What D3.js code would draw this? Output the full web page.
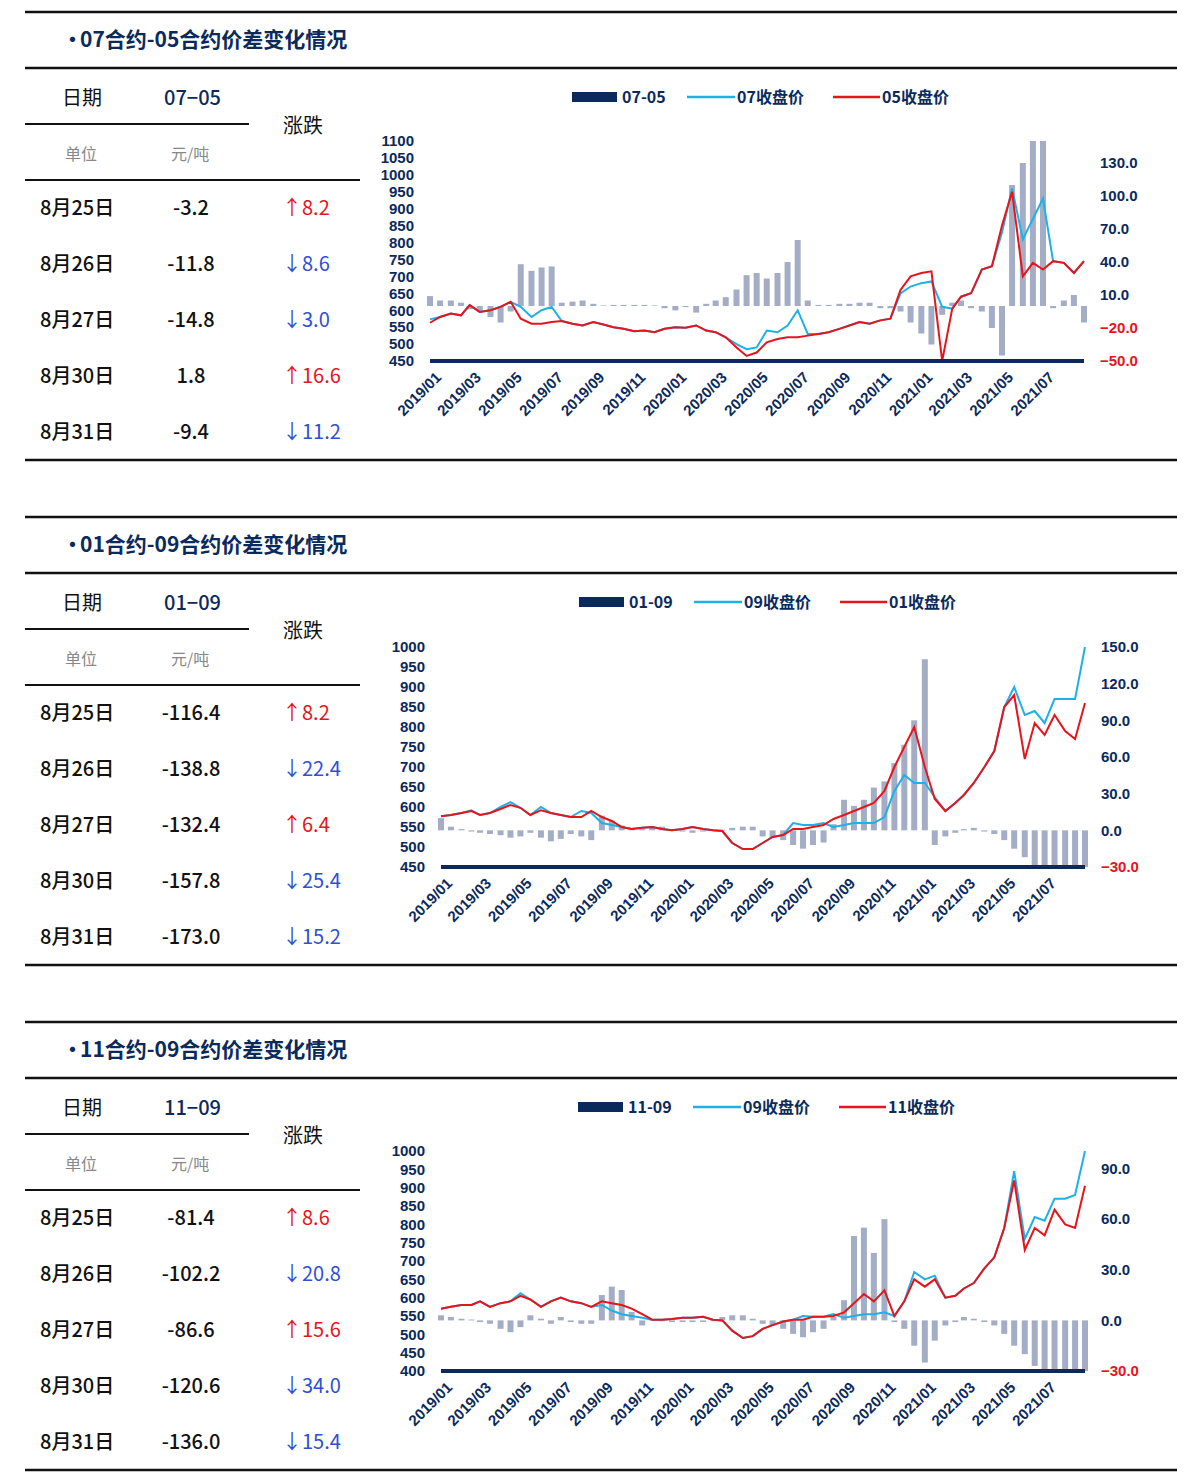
<!DOCTYPE html>
<html><head><meta charset="utf-8">
<script src="https://cdn.jsdelivr.net/npm/d3@7"></script>
<style>body{margin:0;background:#fff}svg{display:block}</style>
</head><body>
<svg id="c" width="1200" height="1483"></svg>
<script>
// ---------- shared categories ----------
const months = [];
for (let y = 2019; y <= 2021; y++) for (let m = 1; m <= 12; m++) { if (y === 2021 && m > 8) break; months.push(y + "-" + String(m).padStart(2, "0")); }
const dates = [];
months.forEach(m => { dates.push(m + "-01"); dates.push(m + "-16"); });
dates.push("2021-08-31");
const xTickLabels = ["2019/01","2019/03","2019/05","2019/07","2019/09","2019/11","2020/01","2020/03","2020/05","2020/07","2020/09","2020/11","2021/01","2021/03","2021/05","2021/07"];

// ---------- panel 1: 07-05 ----------
const p1Title = "07合约-05合约价差变化情况";
const p1Names = ["07-05", "07收盘价", "05收盘价"];
const p1Cyan = [573,580,590,585,615,595,600,610,625,610,580,600,610,568,560,555,565,558,550,545,538,540,535,545,
  550,548,555,540,535,520,500,485,490,540,535,555,600,530,530,535,545,555,565,560,570,575,650,670,
  680,685,610,605,640,650,720,730,830,960,810,870,930,745,740,710,745];
const p1Red = [563,580,590,585,615,595,600,610,625,575,560,560,565,568,560,555,565,558,550,545,538,540,535,545,
  550,548,555,540,535,520,490,465,475,505,515,520,520,525,530,535,545,555,565,560,570,575,660,700,
  710,715,450,605,640,650,720,730,850,950,700,740,720,745,740,710,745];
const p1Bars = [9,5,5,3,-3,-5,-10,-15,-5,38,32,35,36,3,4,5,2,0.5,1,1,1,1,0.5,-2,
  -4,-1,-6,2,5,8,15,28,30,25,30,40,60,5,1,1,2,2,3,3,-2,-2,-5,-15,
  -25,-35,-8,3,5,-2,-5,-20,-45,110,130,150,150,-2,5,10,-15];
const p1Left = d3.range(450, 1101, 50);
const p1Right = [-50, -20, 10, 40, 70, 100, 130];
const p1RowDates = ["8月25日","8月26日","8月27日","8月30日","8月31日"];
const p1RowVals = ["-3.2","-11.8","-14.8","1.8","-9.4"];
const p1RowChg = ["8.2","8.6","3.0","16.6","11.2"];
const p1RowUp = [true,false,false,true,false];

// ---------- panel 2: 01-09 ----------
const p2Title = "01合约-09合约价差变化情况";
const p2Names = ["01-09", "09收盘价", "01收盘价"];
const p2Cyan = [577,580,585,592,580,585,600,612,598,580,600,585,580,575,590,585,560,555,550,545,548,550,545,542,
  545,550,545,542,540,510,495,495,510,525,530,560,555,555,560,550,555,560,560,560,575,640,680,660,
  660,625,590,610,630,660,700,740,850,900,830,840,810,870,870,870,1000];
const p2Red = [577,580,585,590,580,585,595,605,598,580,592,585,580,575,575,590,575,565,550,545,548,550,545,542,
  545,550,545,542,540,510,495,495,510,525,530,545,545,550,555,570,580,590,600,610,640,700,750,800,
  700,620,590,610,630,660,700,740,850,880,720,810,780,830,790,770,860];
const p2Bars = [10,3,1,-1,-2,-3,-4,-6,-5,-2,-6,-9,-7,-3,-5,-8,12,8,4,2,1,2,3,1,
  -1,-2,-1,0.5,0.5,2,3,3,-5,-6,-8,-12,-15,-12,-10,5,25,20,25,35,40,55,70,90,
  140,-12,-5,-2,1,2,-1,-3,-8,-15,-22,-30,-30,-30,-30,-30,-30];
const p2Left = d3.range(450, 1001, 50);
const p2Right = [-30, 0, 30, 60, 90, 120, 150];
const p2RowDates = ["8月25日","8月26日","8月27日","8月30日","8月31日"];
const p2RowVals = ["-116.4","-138.8","-132.4","-157.8","-173.0"];
const p2RowChg = ["8.2","22.4","6.4","25.4","15.2"];
const p2RowUp = [true,false,true,false,false];

// ---------- panel 3: 11-09 ----------
const p3Title = "11合约-09合约价差变化情况";
const p3Names = ["11-09", "09收盘价", "11收盘价"];
const p3Cyan = [570,575,580,580,590,575,585,590,612,595,575,590,600,590,585,575,580,565,555,550,545,540,540,542,
  545,545,548,540,538,510,490,495,515,525,535,540,550,548,548,555,545,550,555,555,560,550,590,670,
  650,660,600,605,625,640,680,710,790,945,760,820,810,870,870,880,1000];
const p3Red = [570,575,580,580,590,575,585,590,605,595,575,590,600,590,585,575,590,585,580,570,555,540,540,542,
  545,545,548,540,538,510,490,495,515,525,535,540,540,548,548,550,560,585,610,590,620,550,590,650,
  630,650,600,605,625,640,680,710,790,920,730,790,770,840,800,790,905];
const p3Bars = [3,2,1,0.5,-1,-2,-5,-7,-4,3,1,-2,2,-1,-2,-2,15,20,18,5,-3,0.5,-0.5,-1,
  -1,-1,-1,-0.5,2,3,3,1,-2,-3,-5,-8,-10,-7,-5,2,12,50,55,40,60,-1,-5,-15,
  -25,-12,-3,-1,2,1,-1,-3,-8,-15,-20,-27,-30,-30,-30,-30,-30];
const p3Left = d3.range(400, 1001, 50);
const p3Right = [-30, 0, 30, 60, 90];
const p3RowDates = ["8月25日","8月26日","8月27日","8月30日","8月31日"];
const p3RowVals = ["-81.4","-102.2","-86.6","-120.6","-136.0"];
const p3RowChg = ["8.6","20.8","15.6","34.0","15.4"];
const p3RowUp = [true,false,true,false,false];

// ---------- drawing ----------
const NAVY = "#0b2a5c", CYAN = "#1fb0e6", RED = "#e8141b", BAR = "#a3aec6";
const CJK = "'Noto Sans CJK SC','Noto Sans',sans-serif";
const NUM = "'Liberation Sans Narrow','Arial Narrow','Liberation Sans',sans-serif";
const svg = d3.select("#c");
const parse = d3.timeParse("%Y-%m-%d");
const T = dates.map(parse);

function panel(o) {
  const g = svg.append("g").attr("transform", `translate(0,${o.oy})`);
  const hl = (x1, x2, y, w) => g.append("line").attr("x1", x1).attr("x2", x2).attr("y1", y).attr("y2", y).attr("stroke", "#111").attr("stroke-width", w);
  hl(25, 1177, 12, 2.5); hl(25, 1177, 68, 2.5); hl(25, 1177, 460, 2.5);
  hl(25, 249, 124, 2); hl(25, 360, 180, 2);
  g.append("text").attr("x", 62).attr("y", 47).attr("font-family", CJK).attr("font-size", 21).attr("font-weight", 700).attr("fill", NAVY).text("•" + o.title.slice(0,0));
  g.append("text").attr("x", 80).attr("y", 47).attr("font-family", CJK).attr("font-size", 21).attr("font-weight", 700).attr("fill", NAVY).text(o.title);
  g.append("text").attr("x", 62).attr("y", 105).attr("font-family", CJK).attr("font-size", 20).attr("fill", "#111").text("日期");
  g.append("text").attr("x", 164).attr("y", 105).attr("font-family", CJK).attr("font-size", 20).attr("font-weight", 500).attr("fill", NAVY).text(o.names[0].replace("-", "−"));
  g.append("text").attr("x", 283).attr("y", 133).attr("font-family", CJK).attr("font-size", 20).attr("fill", "#111").text("涨跌");
  g.append("text").attr("x", 65).attr("y", 160).attr("font-family", CJK).attr("font-size", 16).attr("fill", "#888").text("单位");
  g.append("text").attr("x", 171).attr("y", 160).attr("font-family", CJK).attr("font-size", 16).attr("fill", "#888").text("元/吨");
  o.rowDates.forEach((d, i) => {
    const y = 215 + i * 56;
    g.append("text").attr("x", 40).attr("y", y).attr("font-family", CJK).attr("font-size", 20).attr("font-weight", 500).attr("fill", "#111").text(d);
    g.append("text").attr("x", 191).attr("y", y).attr("text-anchor", "middle").attr("font-family", CJK).attr("font-size", 20).attr("font-weight", 500).attr("fill", "#111").text(o.rowVals[i]);
    g.append("text").attr("x", 282).attr("y", y).attr("font-family", CJK).attr("font-size", 20).attr("fill", o.rowUp[i] ? RED : "#2e4fd6").text((o.rowUp[i] ? "↑" : "↓") + o.rowChg[i]);
  });

  const x = d3.scaleTime().domain([parse("2019-01-01"), parse("2021-08-31")]).range([o.x0, o.x1]);
  const yL = d3.scaleLinear().domain(o.lDom).range([o.yb, o.yt]);
  const yR = d3.scaleLinear().domain(o.rDom).range([o.yb, o.yt]);
  const clipId = "clip" + o.oy;
  g.append("clipPath").attr("id", clipId).append("rect").attr("x", o.x0 - 4).attr("y", o.yt).attr("width", o.x1 - o.x0 + 8).attr("height", o.yb - o.yt);
  const plot = g.append("g").attr("clip-path", `url(#${clipId})`);
  plot.selectAll("rect.b").data(o.bars).join("rect")
    .attr("x", (d, i) => x(T[i]) - 3).attr("width", 6)
    .attr("y", d => Math.min(yR(d), yR(0))).attr("height", d => Math.abs(yR(d) - yR(0)))
    .attr("fill", BAR);
  const line = d3.line().x((d, i) => x(T[i])).y(d => yL(d));
  plot.append("path").datum(o.cyan).attr("d", line).attr("fill", "none").attr("stroke", CYAN).attr("stroke-width", 2);
  plot.append("path").datum(o.red).attr("d", line).attr("fill", "none").attr("stroke", RED).attr("stroke-width", 2);
  g.append("line").attr("x1", o.x0).attr("x2", o.x1).attr("y1", o.yb).attr("y2", o.yb).attr("stroke", NAVY).attr("stroke-width", 4);

  const aL = g.append("g").attr("transform", `translate(${o.x0 - 16},0)`).call(d3.axisLeft(yL).tickValues(o.lTicks).tickSize(0).tickPadding(0).tickFormat(d3.format("d")));
  aL.select(".domain").remove();
  aL.selectAll("text").attr("font-family", NUM).attr("font-size", 15).attr("font-weight", 700).attr("fill", NAVY);
  const aR = g.append("g").attr("transform", `translate(${o.x1 + 16},0)`).call(d3.axisRight(yR).tickValues(o.rTicks).tickSize(0).tickPadding(0).tickFormat(d3.format(".1f")));
  aR.select(".domain").remove();
  aR.selectAll("text").attr("font-family", NUM).attr("font-size", 15).attr("font-weight", 700).attr("fill", d => d < 0 ? RED : NAVY);
  const tickDates = xTickLabels.map(s => d3.timeParse("%Y/%m")(s));
  const aX = g.append("g").attr("transform", `translate(0,${o.yb + 12})`).call(d3.axisBottom(x).tickValues(tickDates).tickSize(0).tickFormat(d3.timeFormat("%Y/%m")));
  aX.select(".domain").remove();
  aX.selectAll("text").attr("font-family", NUM).attr("font-size", 15).attr("font-weight", 700).attr("fill", NAVY)
    .attr("text-anchor", "end").attr("transform", "rotate(-45)").attr("dx", "0.3em").attr("dy", "0.6em");

  // legend
  const lg = g.append("g").attr("font-family", CJK).attr("font-size", 16).attr("font-weight", 700).attr("fill", NAVY);
  const ly = 97, lx = o.legX;
  lg.append("rect").attr("x", lx).attr("y", ly - 5).attr("width", 45).attr("height", 10).attr("fill", NAVY);
  lg.append("text").attr("x", lx + 50).attr("y", ly + 6).text(o.names[0]);
  lg.append("line").attr("x1", lx + 115).attr("x2", lx + 163).attr("y1", ly).attr("y2", ly).attr("stroke", CYAN).attr("stroke-width", 2.5);
  lg.append("text").attr("x", lx + 165).attr("y", ly + 6).text(o.names[1]);
  lg.append("line").attr("x1", lx + 261).attr("x2", lx + 308).attr("y1", ly).attr("y2", ly).attr("stroke", RED).attr("stroke-width", 2.5);
  lg.append("text").attr("x", lx + 310).attr("y", ly + 6).text(o.names[2]);
}

panel({oy: 0, title: p1Title, names: p1Names, cyan: p1Cyan, red: p1Red, bars: p1Bars,
  rowDates: p1RowDates, rowVals: p1RowVals, rowChg: p1RowChg, rowUp: p1RowUp,
  x0: 430, x1: 1084, yt: 141, yb: 361, lDom: [450, 1100], rDom: [-50, 150], lTicks: p1Left, rTicks: p1Right, legX: 572});
panel({oy: 505, title: p2Title, names: p2Names, cyan: p2Cyan, red: p2Red, bars: p2Bars,
  rowDates: p2RowDates, rowVals: p2RowVals, rowChg: p2RowChg, rowUp: p2RowUp,
  x0: 441, x1: 1085, yt: 142, yb: 362, lDom: [450, 1000], rDom: [-30, 150], lTicks: p2Left, rTicks: p2Right, legX: 579});
panel({oy: 1010, title: p3Title, names: p3Names, cyan: p3Cyan, red: p3Red, bars: p3Bars,
  rowDates: p3RowDates, rowVals: p3RowVals, rowChg: p3RowChg, rowUp: p3RowUp,
  x0: 441, x1: 1085, yt: 141, yb: 361, lDom: [400, 1000], rDom: [-30, 100.4], lTicks: p3Left, rTicks: p3Right, legX: 578});
</script>
</body></html>
